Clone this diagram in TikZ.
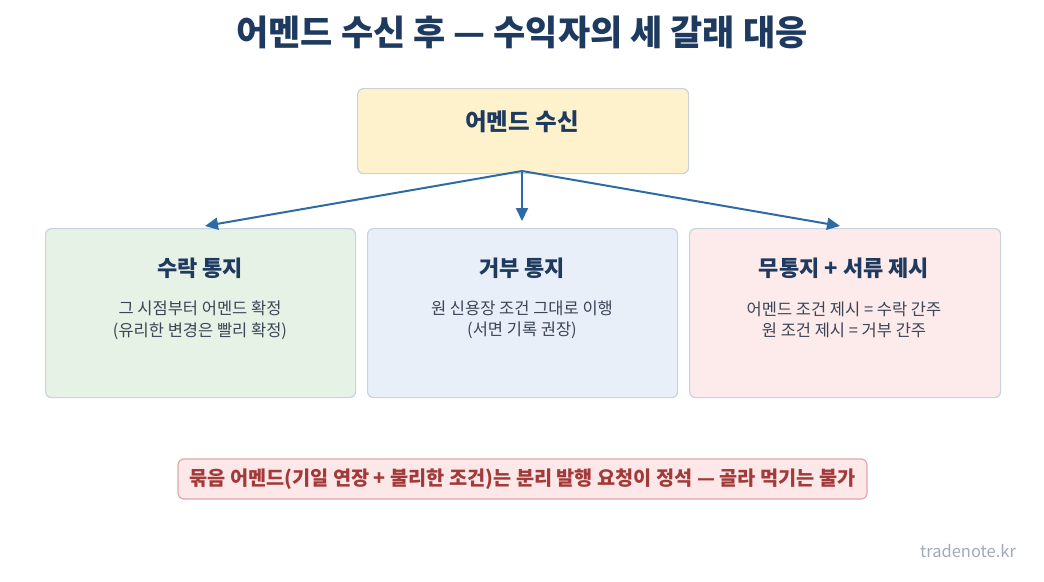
\documentclass[tikz,border=0pt]{standalone}
\usepackage{fontspec}
\setmainfont{Noto Sans CJK KR}
\usetikzlibrary{arrows.meta}
\definecolor{navy}{HTML}{1F3A5F}
\definecolor{arr}{HTML}{2E6BA4}
\definecolor{bd}{HTML}{C9D3DD}
\definecolor{body}{HTML}{3A4656}
\tikzset{
 box/.style={draw=bd,line width=1.2pt,rounded corners=6pt,anchor=north west},
 ttl/.style={font=\fontsize{22}{26}\selectfont\bfseries,text=navy},
 txt/.style={font=\fontsize{16.5}{21.5}\selectfont,text=body,align=center},
 con/.style={draw=arr,line width=2pt,-{Triangle[length=13pt,width=12pt]}}
}
\begin{document}
\begin{tikzpicture}[x=1pt,y=-1pt]
\useasboundingbox (0,0) rectangle (1044,581);
\node[font=\fontsize{35}{40}\selectfont\bfseries,text=navy] (title) at (522,32) {어멘드 수신 후 — 수익자의 세 갈래 대응};
\node[box,fill={rgb,255:red,253;green,242;blue,204},minimum width=331pt,minimum height=85pt] (top) at (357,88) {};
\node[font=\fontsize{23.5}{28}\selectfont\bfseries,text=navy] (toptxt) at (522,122) {어멘드 수신};
\node[box,fill={rgb,255:red,230;green,242;blue,230},minimum width=310pt,minimum height=169pt] (b1) at (45,228) {};
\node[box,fill={rgb,255:red,232;green,239;blue,248},minimum width=310pt,minimum height=169pt] (b2) at (367,228) {};
\node[box,fill={rgb,255:red,253;green,234;blue,234},minimum width=311pt,minimum height=169pt] (b3) at (689,228) {};
\node[ttl] (t1) at (200,268) {수락 통지};
\node[ttl] (t2) at (522,268) {거부 통지};
\node[ttl] (t3) at (844,268) {무통지 + 서류 제시};
\node[txt] (x1) at (200,320) {그 시점부터 어멘드 확정\\(유리한 변경은 빨리 확정)};
\node[txt] (x2) at (522,320) {원 신용장 조건 그대로 이행\\(서면 기록 권장)};
\node[txt] (x3) at (844,320) {어멘드 조건 제시 = 수락 간주\\원 조건 제시 = 거부 간주};
\coordinate (s) at (522,171);
\coordinate (e1) at (205,226);
\coordinate (e2) at (522,221);
\coordinate (e3) at (840,226);
\draw[con] (s) -- (e1);
\draw[con] (s) -- (e2);
\draw[con] (s) -- (e3);
\node[draw={rgb,255:red,224;green,168;blue,168},line width=1.2pt,rounded corners=6pt,fill={rgb,255:red,252;green,232;blue,232},minimum width=689pt,minimum height=40pt,font=\fontsize{19.7}{23}\selectfont\bfseries,text={rgb,255:red,163;green,58;blue,58}] (note) at (522.5,479) {묶음 어멘드(기일 연장 + 불리한 조건)는 분리 발행 요청이 정석 — 골라 먹기는 불가};
\node[font=\fontsize{16.5}{20}\selectfont,text={rgb,255:red,160;green,170;blue,184}] (wm) at (968,551) {tradenote.kr};
\end{tikzpicture}
\end{document}
